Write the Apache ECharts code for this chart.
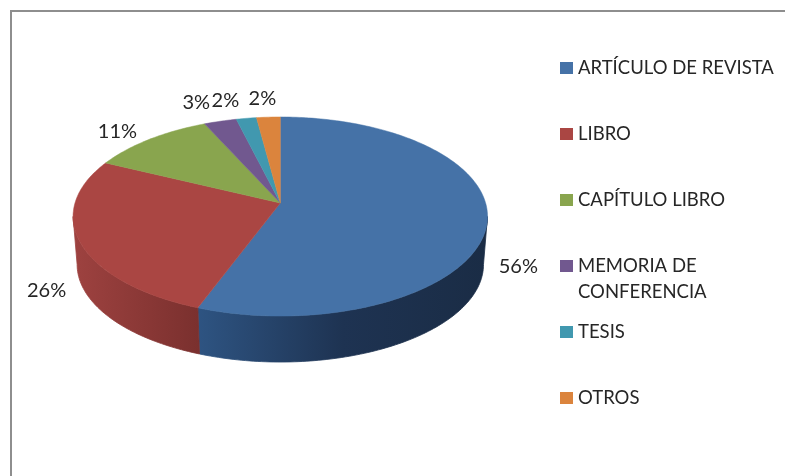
<!DOCTYPE html>
<html>
<head>
<meta charset="utf-8">
<style>
  html, body { margin: 0; padding: 0; background: #fff; }
  #chart { width: 785px; height: 476px; }
</style>
<script src="https://cdn.jsdelivr.net/npm/echarts@6/dist/echarts.min.js"></script>
</head>
<body>
<div id="chart"></div>
<script>
const categories = ['ARTÍCULO DE REVISTA', 'LIBRO', 'CAPÍTULO LIBRO', 'MEMORIA DE CONFERENCIA', 'TESIS', 'OTROS']
const values = [55.7, 26.45, 11.05, 2.9, 1.8, 2.1]
const colors = ['#4572a7', '#aa4643', '#89a54e', '#71588f', '#4198af', '#db843d']
// gradiente de la pared lateral, solo se ven las dos primeras porciones
const wallStops = {
  0: [[0, '#2e5482'], [0.5, '#1e3352'], [1, '#1a2c45']],
  1: [[0, '#9e4240'], [1, '#7a302e']]
}
// desplazamiento de cada etiqueta respecto al borde de su porcion
const labelNudge = [[31, 46], [-33, 49], [-32, -8], [-24, -19], [-21, -18], [-6, -19]]

const font = 'Lato'
const total = values.reduce((a, b) => a + b, 0)

// disco en perspectiva: el vertice no cae en el centro de la elipse
const persp = 0.1357
const topDisc = { cx: 280.3, cy: 203, a: 205.3, b: 97.7 }
const bottomDisc = { cx: 280.3, cy: 251.3, a: 201.3, b: 95.7 }
const wallFrom = 97.8
const wallTo = 262.2

function rim(disc, deg) {
  const t = deg * Math.PI / 180
  const u = Math.sin(t)
  const v = -Math.cos(t)
  const w = 1 - persp * v
  return [disc.cx + disc.a * u / w, disc.cy + disc.b * v / w]
}

function arc(disc, from, to) {
  const pts = []
  const n = Math.max(2, Math.ceil(Math.abs(to - from)))
  for (let i = 0; i <= n; i++) {
    pts.push(rim(disc, from + (to - from) * i / n))
  }
  return pts
}

function renderSlice(params, api) {
  const idx = params.seriesIndex
  const start = api.value(0) / total * 360
  const end = api.value(1) / total * 360
  const children = []

  const wa = Math.max(start, wallFrom)
  const wb = Math.min(end, wallTo)
  if (wb > wa) {
    const grad = new echarts.graphic.LinearGradient(0, 0, 1, 0, wallStops[idx].map(s => ({ offset: s[0], color: s[1] })))
    children.push({
      type: 'polygon',
      shape: { points: arc(topDisc, wa, wb).concat(arc(bottomDisc, wb, wa)) },
      style: { fill: grad, stroke: grad, lineWidth: 0.8 }
    })
  }

  children.push({
    type: 'polygon',
    shape: { points: [[topDisc.cx, topDisc.cy]].concat(arc(topDisc, start, end)) },
    style: { fill: colors[idx], stroke: colors[idx], lineWidth: 0.5 }
  })

  const mid = rim(topDisc, (start + end) / 2)
  children.push({
    type: 'text',
    style: {
      text: Math.round(values[idx]) + '%',
      x: mid[0] + labelNudge[idx][0],
      y: mid[1] + labelNudge[idx][1],
      align: 'center',
      verticalAlign: 'middle',
      fontFamily: font,
      fontSize: 20,
      fill: '#262626'
    }
  })
  return { type: 'group', children: children }
}

let running = 0
const series = categories.map((name, i) => {
  const from = running
  running += values[i]
  return {
    type: 'custom',
    name: name,
    coordinateSystem: 'none',
    renderItem: renderSlice,
    itemStyle: { color: colors[i] },
    data: [[from, running]],
    silent: true
  }
})

const legends = categories.map((name, i) => {
  const twoLines = name === 'MEMORIA DE CONFERENCIA'
  return {
    left: 560,
    top: 68 + 66 * i - (twoLines ? 39 : 13),
    orient: 'vertical',
    data: [name],
    selectedMode: false,
    icon: 'rect',
    itemWidth: 13,
    itemHeight: 12,
    padding: 0,
    textStyle: { fontFamily: font, fontSize: 18.5, color: '#262626', lineHeight: 26 },
    // linea en blanco para que el marcador quede a la altura de la primera linea
    formatter: n => (n === 'MEMORIA DE CONFERENCIA' ? '\nMEMORIA DE\nCONFERENCIA' : n)
  }
})

const chart = echarts.init(document.getElementById('chart'), null, { renderer: 'canvas' })
chart.setOption({
  animation: false,
  backgroundColor: '#ffffff',
  tooltip: { show: false },
  legend: legends,
  graphic: [{
    type: 'polyline',
    shape: { points: [[11, 476], [11, 11], [785, 11]] },
    style: { stroke: '#8e8e8e', lineWidth: 2, fill: null }
  }],
  series: series
})
</script>
</body>
</html>
